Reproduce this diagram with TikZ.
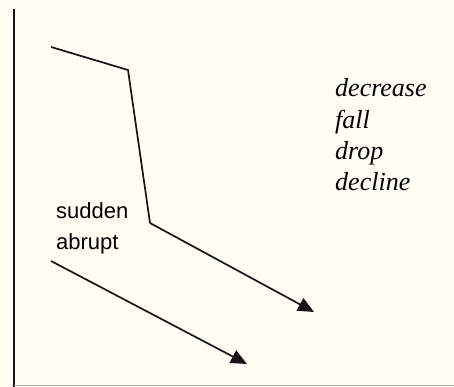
\documentclass[tikz,border=0pt]{standalone}
\usepackage{fontspec}
\setmainfont{Liberation Serif}
\setsansfont{Liberation Sans}
\usepackage{xcolor}
\usepackage{tikz}
\usetikzlibrary{arrows.meta, positioning}

\definecolor{paper}{HTML}{FFFDF4}
\definecolor{ink}{HTML}{151515}

\begin{document}
\begin{tikzpicture}[
				x=1pt, y=-1pt,
				line/.style={ink, line width=1.7pt, line join=miter},
				arrow/.style={line, -{Triangle[length=16pt, width=14pt]}},
				verbs/.style={
					font=\fontsize{26}{31}\selectfont\itshape,
					align=left,
					anchor=base west,
					inner sep=0pt
				},
				manner/.style={
					font=\fontsize{22}{31}\selectfont\sffamily,
					align=left,
					anchor=base west,
					inner sep=0pt
				}
				]
				
				% Fondo y marco
				\fill[paper] (0,0) rectangle (454,387);
				\useasboundingbox (0,0) rectangle (454,387);
				\coordinate (axtop) at (14,9);
				\coordinate (axbot) at (14,387);
				\coordinate (baseL) at (14,385);
				\coordinate (baseR) at (454,385);
				\draw[ink, line width=1.6pt] (axtop) -- (axbot);
				\draw[gray!60, line width=0.8pt] (baseL) -- (baseR);
				
				% Textos (base de la ultima linea)
				\node[verbs] (verbos) at (335,190) {decrease\\fall\\drop\\decline};
				\node[manner] (modo) at (56,249) {sudden\\abrupt};
				
				% Curvas
				\coordinate (start) at (51,47);
				\coordinate (knee) at (128,70);
				\coordinate (foot) at (150,223);
				\coordinate (end) at (314,312);
				\coordinate (lowstart) at (51,261);
				\coordinate (lowend) at (247,364);
				
				\draw[line] (start) -- (knee) -- (foot);
				\draw[arrow] (foot) -- (end);
				\draw[arrow] (lowstart) -- (lowend);
				
			\end{tikzpicture}
\end{document}
